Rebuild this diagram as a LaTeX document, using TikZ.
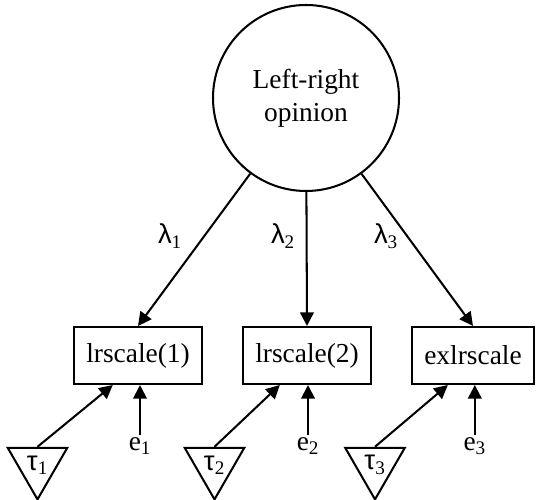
\documentclass[tikz,border=0pt]{standalone}
\usepackage{fontspec}
\setmainfont{Liberation Serif}
\newfontfamily\grk{Liberation Sans}
\usetikzlibrary{arrows.meta,shapes.geometric}
\newcommand{\gsub}[2]{{\grk #1}\textsubscript{#2}}

\begin{document}
\begin{tikzpicture}[>={Triangle[length=0.34cm,width=0.34cm]},line width=1.45pt,
 font=\fontsize{19.5}{23.5}\selectfont,
 latent/.style={draw,circle,minimum size=4.65cm,inner sep=0pt,align=center},
 obs/.style={draw,rectangle,minimum height=1.425cm,inner xsep=0.3cm},
 mean/.style={draw,regular polygon,regular polygon sides=3,shape border rotate=180,minimum size=1.72cm,inner sep=0pt},
 err/.style={anchor=north,inner sep=1pt}]
\useasboundingbox (0,0) rectangle (13.4,12.475);
\node[latent] (lro) at (7.65,10.025) {Left-right\\opinion};
\node[obs] (lr1) at (3.45,3.5875) {lrscale(1)};
\node[obs] (lr2) at (7.675,3.5875) {lrscale(2)};
\node[obs] (exlr) at (11.825,3.5875) {exlrscale};
\node (lam1) at (4.25,6.575) {\gsub{λ}{1}};
\node (lam2) at (7.075,6.575) {\gsub{λ}{2}};
\node (lam3) at (9.65,6.575) {\gsub{λ}{3}};
\node[mean,label=center:\gsub{τ}{1}] (t1) at (0.9375,0.85) {};
\node[mean,label=center:\gsub{τ}{2}] (t2) at (5.3625,0.85) {};
\node[mean,label=center:\gsub{τ}{3}] (t3) at (9.375,0.85) {};
\node[err] (e1) at (3.5,1.6) {e\textsubscript{1}};
\node[err] (e2) at (7.7,1.6) {e\textsubscript{2}};
\node[err] (e3) at (11.87,1.6) {e\textsubscript{3}};
\draw[->] (lro)--(lr1.north);
\draw[->] (lro)--(lr2.north);
\draw[->] (lro)--(exlr.north);
\draw[->] (t1.north)--([xshift=-0.63cm]lr1.south);
\draw[->] (t2.north)--([xshift=-0.68cm]lr2.south);
\draw[->] (t3.north)--([xshift=-0.63cm]exlr.south);
\draw[->] (e1.north)--(e1.north|-lr1.south);
\draw[->] (e2.north)--(e2.north|-lr2.south);
\draw[->] (e3.north)--(e3.north|-exlr.south);
\end{tikzpicture}
\end{document}
